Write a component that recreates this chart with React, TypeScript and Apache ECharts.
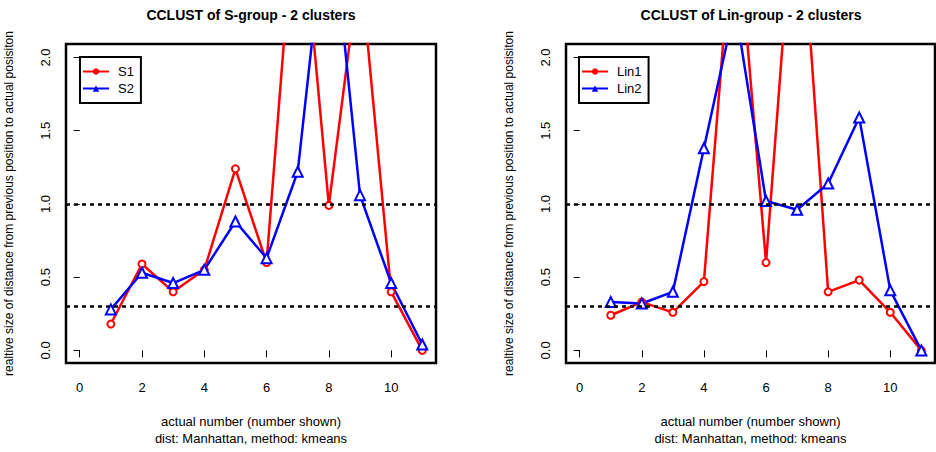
import React, { useEffect, useRef } from "react";
import * as echarts from "echarts";

const xValues = [1, 2, 3, 4, 5, 6, 7, 8, 9, 10, 11];
const s1 = [0.18, 0.59, 0.4, 0.55, 1.24, 0.6, 3.3, 0.99, 2.65, 0.4, 0.0];
const s2 = [0.28, 0.53, 0.46, 0.55, 0.88, 0.63, 1.22, 3.15, 1.06, 0.46, 0.04];
const lin1 = [0.24, 0.33, 0.26, 0.47, 3.1, 0.6, 3.4, 0.4, 0.48, 0.26, 0.0];
const lin2 = [0.33, 0.32, 0.4, 1.38, 2.35, 1.02, 0.96, 1.14, 1.59, 0.41, 0.0];
const xTicks = [0, 2, 4, 6, 8, 10];
const yTicks = [0, 0.5, 1, 1.5, 2];
const thresholds = [1.0, 0.3];
const titles = ["CCLUST of S-group - 2 clusters", "CCLUST of Lin-group - 2 clusters"];
const xName = "actual number (number shown)\ndist: Manhattan, method: kmeans";
const yName = "realtive size of distance from previous position to actual posisiton";

const FONT = "Liberation Sans, Arial, sans-serif";

export default function App() {
  const ref = useRef<HTMLDivElement>(null);
  useEffect(() => {
    if (!ref.current) return;
    const chart = echarts.init(ref.current, null, { renderer: "svg" });
    const grids = [
      { left: 66, top: 44, width: 370, height: 323 },
      { left: 566, top: 44, width: 369, height: 323 },
    ];
    const mkX = (i: number) => ({
      type: "value",
      gridIndex: i,
      min: -0.44,
      max: 11.44,
      axisLine: { show: false },
      axisTick: { show: true, length: 7, customValues: xTicks, lineStyle: { color: "#000", width: 1 } },
      axisLabel: { customValues: xTicks, fontSize: 13, color: "#000", fontFamily: FONT, margin: 18 },
      splitLine: { show: false },
      name: xName,
      nameLocation: "middle",
      nameGap: 50,
      nameTextStyle: { fontSize: 13, color: "#000", fontFamily: FONT, lineHeight: 17 },
    });
    const mkY = (i: number) => ({
      type: "value",
      gridIndex: i,
      min: -0.086,
      max: 2.092,
      axisLine: { show: false },
      axisTick: { show: true, length: 6, customValues: yTicks, lineStyle: { color: "#000", width: 1 } },
      axisLabel: {
        customValues: yTicks,
        rotate: 90,
        fontSize: 13,
        color: "#000",
        fontFamily: FONT,
        margin: 14,
        formatter: (v: number) => v.toFixed(1),
      },
      splitLine: { show: false },
      name: yName,
      nameLocation: "middle",
      nameGap: 51,
      nameTextStyle: { fontSize: 12, color: "#000", fontFamily: FONT },
    });
    const mkSeries = (name: string, vals: number[], color: string, tri: boolean, idx: number, withMark: boolean) => ({
      type: "line",
      name,
      xAxisIndex: idx,
      yAxisIndex: idx,
      data: xValues.map((x, i) => [x, vals[i]]),
      symbol: tri ? "triangle" : "circle",
      symbolSize: tri ? 10 : 7,
      lineStyle: { color, width: 2.5 },
      itemStyle: { color: "#fff", borderColor: color, borderWidth: 2 },
      clip: true,
      z: 2,
      markLine: withMark
        ? {
            silent: true,
            symbol: "none",
            label: { show: false },
            lineStyle: { color: "#000", width: 2.5, type: [4, 4] },
            data: thresholds.map((t) => ({ yAxis: t })),
            z: 5,
          }
        : undefined,
    });
    const mkLegend = (left: number, names: string[], colors: string[]) => ({
      orient: "vertical",
      left,
      top: 57,
      itemWidth: 26,
      itemHeight: 8,
      itemGap: 4,
      padding: [8, 7, 8, 2],
      borderColor: "#000",
      borderWidth: 2,
      textStyle: { fontSize: 13, color: "#000", fontFamily: FONT, padding: [0, 0, 0, 4] },
      data: names.map((n, i) => ({ name: n, itemStyle: { color: colors[i], borderWidth: 0 } })),
      selectedMode: false,
    });
    chart.setOption({
      animation: false,
      backgroundColor: "#fff",
      grid: grids.map((g) => ({ ...g, show: true, borderColor: "#000", borderWidth: 2.5, backgroundColor: "transparent" })),
      xAxis: [mkX(0), mkX(1)],
      yAxis: [mkY(0), mkY(1)],
      legend: [
        mkLegend(80, ["S1", "S2"], ["#ff0000", "#0000ff"]),
        mkLegend(579, ["Lin1", "Lin2"], ["#ff0000", "#0000ff"]),
      ],
      graphic: titles.map((t, i) => ({
        type: "text",
        x: i === 0 ? 251 : 751,
        y: 15,
        style: { text: t, font: `bold 14px ${FONT}`, fill: "#000", align: "center", verticalAlign: "middle" },
      })),
      series: [
        mkSeries("S1", s1, "#ff0000", false, 0, true),
        mkSeries("S2", s2, "#0000ff", true, 0, false),
        mkSeries("Lin1", lin1, "#ff0000", false, 1, true),
        mkSeries("Lin2", lin2, "#0000ff", true, 1, false),
      ],
    });
    return () => chart.dispose();
  }, []);
  return <div ref={ref} style={{ width: 936, height: 452, position: "absolute", left: 0, top: 0 }} />;
}
